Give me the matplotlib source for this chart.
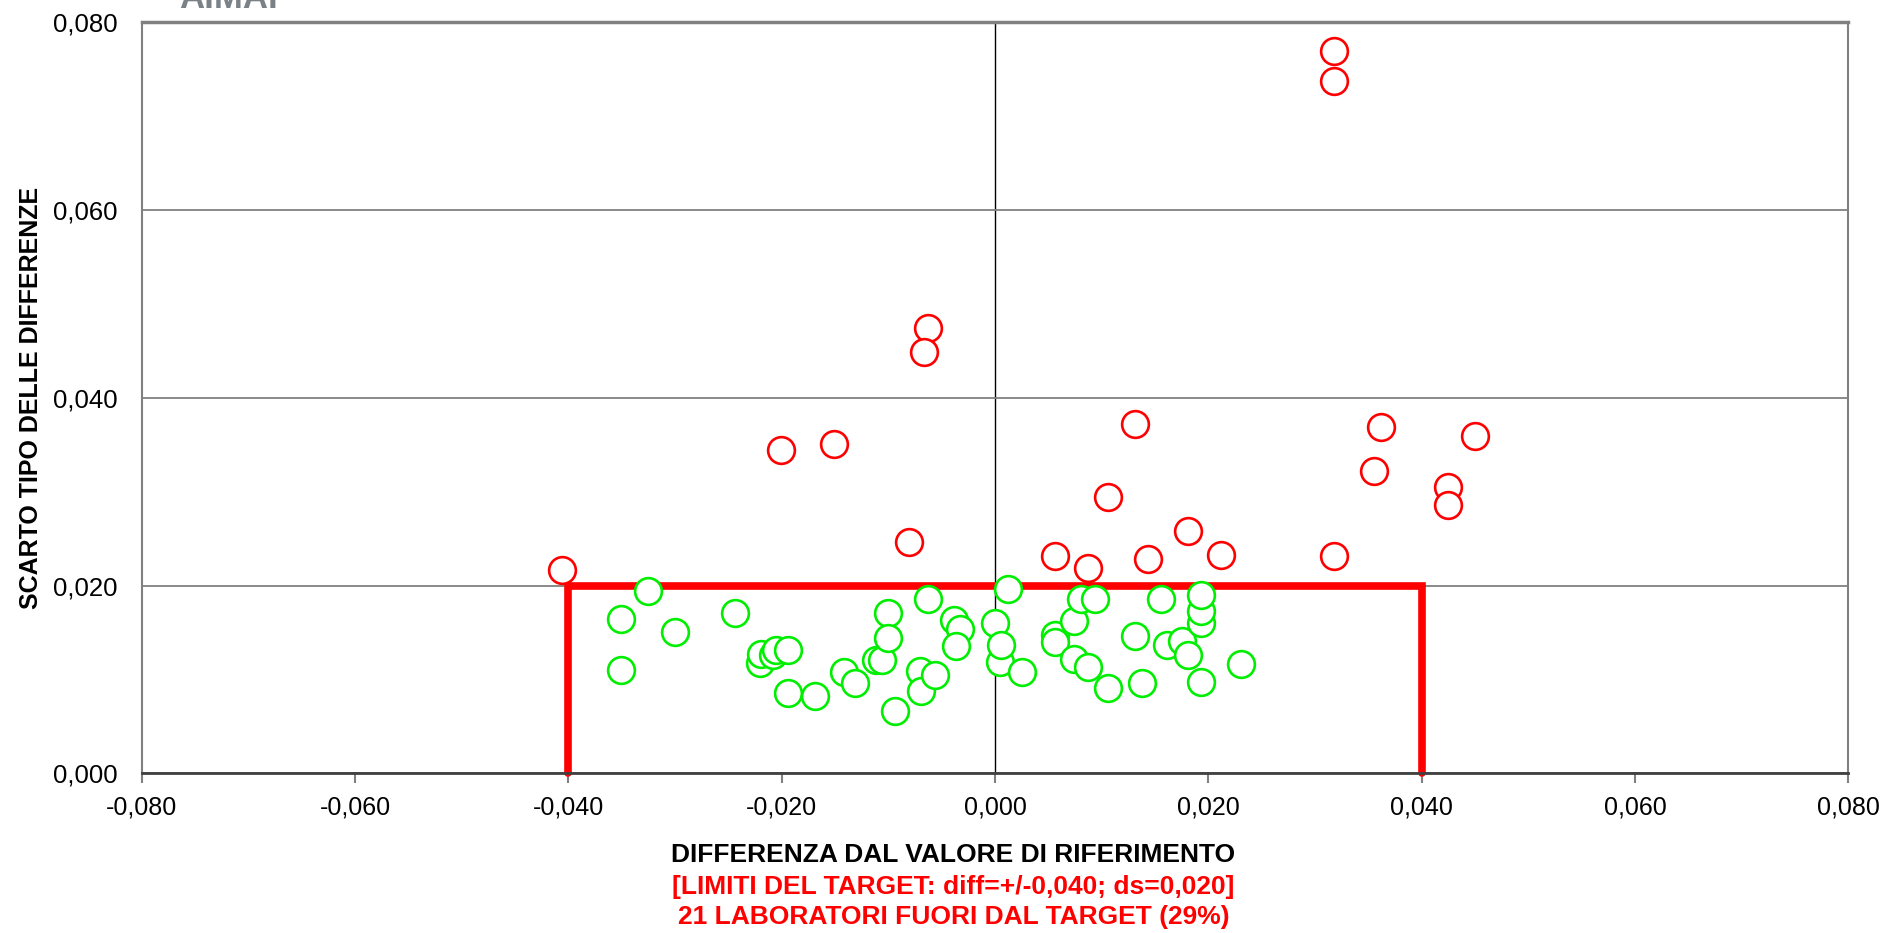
import matplotlib.pyplot as plt
from matplotlib.ticker import FuncFormatter, MultipleLocator

plt.rcParams['font.family'] = ['Liberation Sans', 'DejaVu Sans']

# Labs outside the target (red)
out_diff = [-0.0406, 0.0318, 0.0318, -0.0063, -0.0067, -0.0201, -0.0151,
            -0.0081, 0.0131, 0.0106, 0.0056, 0.0087, 0.0143, 0.0181,
            0.0212, 0.0318, 0.0362, 0.0355, 0.0425, 0.0425, 0.0450]
out_sd = [0.0217, 0.0769, 0.0738, 0.0474, 0.0449, 0.0345, 0.0351,
          0.0247, 0.0372, 0.0295, 0.0232, 0.0219, 0.0228, 0.0258,
          0.0233, 0.0232, 0.0369, 0.0322, 0.0305, 0.0286, 0.0359]

# Labs inside the target (green)
in_diff = [-0.0351, -0.0351, -0.0325, -0.0300, -0.0244, -0.0220, -0.0219,
           -0.0208, -0.0205, -0.0194, -0.0194, -0.0169, -0.0142, -0.0131,
           -0.0112, -0.0106, -0.0100, -0.0100, -0.0094, -0.0070, -0.0069,
           -0.0063, -0.0056, -0.0038, -0.0033, -0.0037, 0.0000, 0.0005,
           0.0006, 0.0012, 0.0025, 0.0056, 0.0056, 0.0074, 0.0074, 0.0081,
           0.0087, 0.0094, 0.0106, 0.0131, 0.0138, 0.0156, 0.0161, 0.0175,
           0.0181, 0.0193, 0.0193, 0.0193, 0.0193, 0.0231]
in_sd = [0.0164, 0.0110, 0.0194, 0.0151, 0.0171, 0.0118, 0.0127,
         0.0126, 0.0131, 0.0131, 0.0086, 0.0083, 0.0108, 0.0096,
         0.0121, 0.0121, 0.0171, 0.0144, 0.0067, 0.0109, 0.0088,
         0.0186, 0.0105, 0.0163, 0.0154, 0.0136, 0.0160, 0.0119,
         0.0137, 0.0196, 0.0108, 0.0147, 0.0140, 0.0162, 0.0122, 0.0186,
         0.0113, 0.0186, 0.0091, 0.0146, 0.0096, 0.0186, 0.0137, 0.0141,
         0.0126, 0.0160, 0.0173, 0.0190, 0.0097, 0.0117]

# Target limits
target_x = [-0.040, -0.040, 0.040, 0.040]
target_y = [0.000, 0.020, 0.020, 0.000]

fig = plt.figure(figsize=(18.88, 9.33), dpi=100)
ax = fig.add_axes([0.075, 0.171, 0.904, 0.805])

ax.set_xlim(-0.08, 0.08)
ax.set_ylim(0, 0.08)

ax.yaxis.set_major_locator(MultipleLocator(0.02))
ax.xaxis.set_major_locator(MultipleLocator(0.02))
fmt = FuncFormatter(lambda v, p: f"{v:.3f}".replace('.', ',').replace('-0,000', '0,000'))
ax.xaxis.set_major_formatter(fmt)
ax.yaxis.set_major_formatter(fmt)

ax.grid(axis='y', color='#808080', linewidth=1.3, zorder=0)
ax.axvline(0, color='black', linewidth=1.0, zorder=1)

for side in ['top', 'right', 'left']:
    ax.spines[side].set_color('#808080')
    ax.spines[side].set_linewidth(1.5)
ax.spines['top'].set_linewidth(2.5)
ax.spines['bottom'].set_color('#404040')
ax.spines['bottom'].set_linewidth(2.0)

ax.tick_params(axis='x', direction='out', length=7, width=1.5, color='#808080',
               labelsize=18, pad=9)
ax.tick_params(axis='y', length=0, labelsize=18.5, pad=17)

ax.plot(target_x, target_y, color='#ff0000', linewidth=5.5,
        solid_capstyle='round', solid_joinstyle='miter', zorder=2, clip_on=False)

ax.scatter(in_diff, in_sd, s=370, facecolors='white', edgecolors='#00ee00',
           linewidths=1.9, zorder=3)
ax.scatter(out_diff, out_sd, s=370, facecolors='white', edgecolors='#ff0000',
           linewidths=1.9, zorder=3)

ax.set_ylabel("SCARTO TIPO DELLE DIFFERENZE", fontsize=18, fontweight='bold')
ax.yaxis.set_label_coords(-0.058, 0.5)

fig.text(0.505, 0.084, "DIFFERENZA DAL VALORE DI RIFERIMENTO", ha='center',
         va='center', fontsize=19, fontweight='bold', color='black')
fig.text(0.505, 0.049, "[LIMITI DEL TARGET: diff=+/-0,040; ds=0,020]", ha='center',
         va='center', fontsize=19, fontweight='bold', color='#ff0000')
fig.text(0.505, 0.017, "21 LABORATORI FUORI DAL TARGET (29%)", ha='center',
         va='center', fontsize=19, fontweight='bold', color='#ff0000')

# logo, cut by the top edge as in the original
fig.text(0.095, 0.991, "AIMAP", ha='left', va='baseline', fontsize=25,
         fontweight='bold', color='#7a8288')

fig.savefig("out.png", dpi=100)
